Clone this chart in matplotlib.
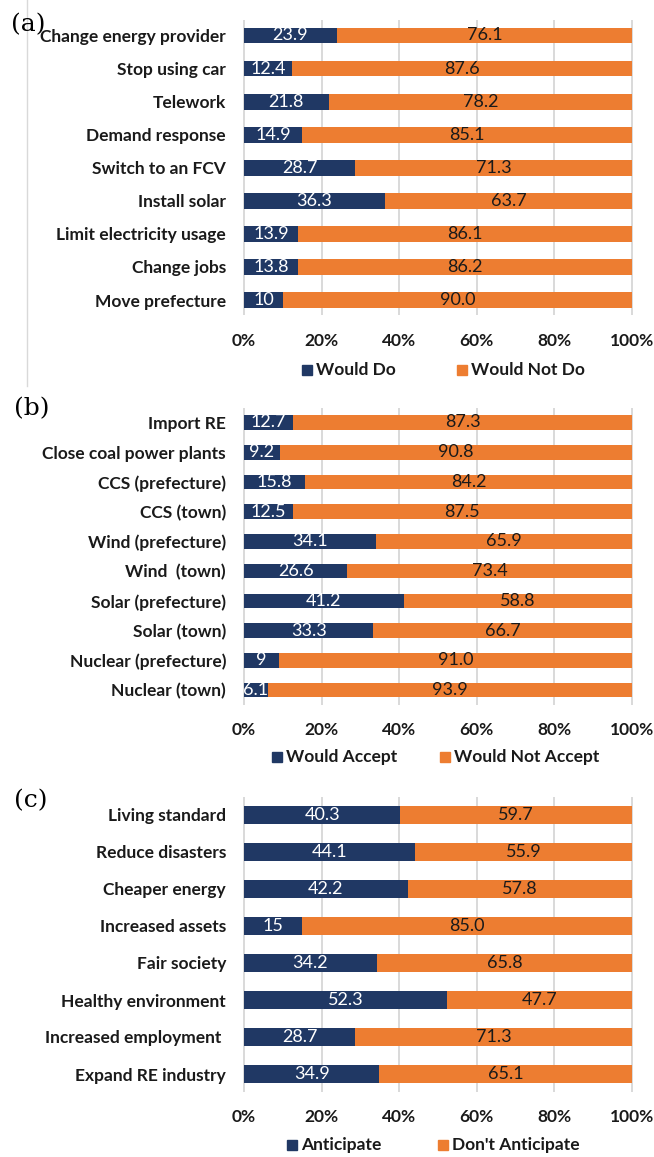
import matplotlib
matplotlib.use("Agg")
import matplotlib.pyplot as plt
from matplotlib.patches import Rectangle
from matplotlib.lines import Line2D

W, H, DPI = 654, 1157, 100

NAVY = "#203864"
ORANGE = "#ED7D31"
GRID = "#d9d9d9"
INK = "#1a1a1a"
FONT = "Lato"

# (a) behavioural actions
actions = ["Change energy provider", "Stop using car", "Telework", "Demand response",
           "Switch to an FCV", "Install solar", "Limit electricity usage", "Change jobs",
           "Move prefecture"]
actions_do = [23.9, 12.4, 21.8, 14.9, 28.7, 36.3, 13.9, 13.8, 10]
actions_not = [76.1, 87.6, 78.2, 85.1, 71.3, 63.7, 86.1, 86.2, 90.0]

# (b) energy infrastructure
infra = ["Import RE", "Close coal power plants", "CCS (prefecture)", "CCS (town)",
         "Wind (prefecture)", "Wind  (town)", "Solar (prefecture)", "Solar (town)",
         "Nuclear (prefecture)", "Nuclear (town)"]
infra_accept = [12.7, 9.2, 15.8, 12.5, 34.1, 26.6, 41.2, 33.3, 9, 6.1]
infra_reject = [87.3, 90.8, 84.2, 87.5, 65.9, 73.4, 58.8, 66.7, 91.0, 93.9]

# (c) expected benefits
benefits = ["Living standard", "Reduce disasters", "Cheaper energy", "Increased assets",
            "Fair society", "Healthy environment", "Increased employment ",
            "Expand RE industry"]
benefits_yes = [40.3, 44.1, 42.2, 15, 34.2, 52.3, 28.7, 34.9]
benefits_no = [59.7, 55.9, 57.8, 85.0, 65.8, 47.7, 71.3, 65.1]

xticks = [0, 20, 40, 60, 80, 100]
xticklabels = ["0%", "20%", "40%", "60%", "80%", "100%"]

LABEL_SIZE = 12.5
VALUE_SIZE = 13

fig = plt.figure(figsize=(W / DPI, H / DPI), dpi=DPI)
fig.patch.set_facecolor("white")


def px_axes(left, top, right, bottom):
    return fig.add_axes([left / W, 1 - bottom / H, (right - left) / W, (bottom - top) / H])


def legend_entry(x, y, color, text):
    s = 10
    fig.patches.append(Rectangle((x / W, (H - y - s / 2) / H), s / W, s / H,
                                 transform=fig.transFigure, color=color, figure=fig))
    fig.text((x + s + 4) / W, 1 - y / H, text, ha="left", va="center",
             fontsize=LABEL_SIZE, fontweight="bold", family=FONT, color=INK)


def panel(cats, yes, no, top, bottom, first_c, last_c, bar_h, tick_y, legend):
    n = len(cats)
    step = (last_c - first_c) / (n - 1)
    ax = px_axes(244, top, 632, bottom)
    ax.set_xlim(0, 100)
    ax.set_ylim(n - 1 + (bottom - last_c) / step, -(first_c - top) / step)
    pos = list(range(n))
    ax.vlines(xticks, *ax.get_ylim(), colors=GRID, lw=1.4, zorder=1, clip_on=False)
    b1 = ax.barh(pos, yes, height=bar_h, color=NAVY, zorder=3)
    b2 = ax.barh(pos, no, left=yes, height=bar_h, color=ORANGE, zorder=3)
    ax.bar_label(b1, labels=[f"{v:g}" for v in yes], label_type="center",
                 color="white", fontsize=VALUE_SIZE, family=FONT)
    ax.bar_label(b2, labels=[f"{v:.1f}" for v in no], label_type="center",
                 color=INK, fontsize=VALUE_SIZE, family=FONT)
    ax.set_yticks(pos)
    ax.set_yticklabels(cats, fontsize=LABEL_SIZE, fontweight="bold", family=FONT, color=INK)
    ax.set_xticks(xticks)
    ax.set_xticklabels(xticklabels, fontsize=LABEL_SIZE, fontweight="bold", family=FONT,
                       color=INK)
    for lbl in ax.get_xticklabels():
        lbl.set_va("center")
    ax.tick_params(axis="x", length=0, pad=(tick_y - bottom) * 0.72)
    ax.tick_params(axis="y", length=0, pad=18 * 0.72)
    for sp in ax.spines.values():
        sp.set_visible(False)
    for x, y, color, text in legend:
        legend_entry(x, y, color, text)
    return ax


panel(actions, actions_do, actions_not, 20, 315, 35.5, 300, 0.48, 341,
      [(302, 370, NAVY, "Would Do"), (457, 370, ORANGE, "Would Not Do")])
panel(infra, infra_accept, infra_reject, 408, 705, 422.5, 690, 0.49, 730,
      [(272, 757, NAVY, "Would Accept"), (440, 757, ORANGE, "Would Not Accept")])
panel(benefits, benefits_yes, benefits_no, 797, 1092, 815, 1074, 0.49, 1117,
      [(287, 1145, NAVY, "Anticipate"), (438, 1145, ORANGE, "Don't Anticipate")])

# panel letters
for x, y, s in [(11, 25, "(a)"), (14, 409, "(b)"), (14, 801, "(c)")]:
    fig.text(x / W, 1 - y / H, s, ha="left", va="center", fontsize=18,
             family="DejaVu Serif", color="black")

# thin divider on the left of the first panel
fig.add_artist(Line2D([27 / W, 27 / W], [1, 1 - 386 / H], color=GRID, lw=1,
                      transform=fig.transFigure))

fig.savefig("out.png", dpi=DPI)
